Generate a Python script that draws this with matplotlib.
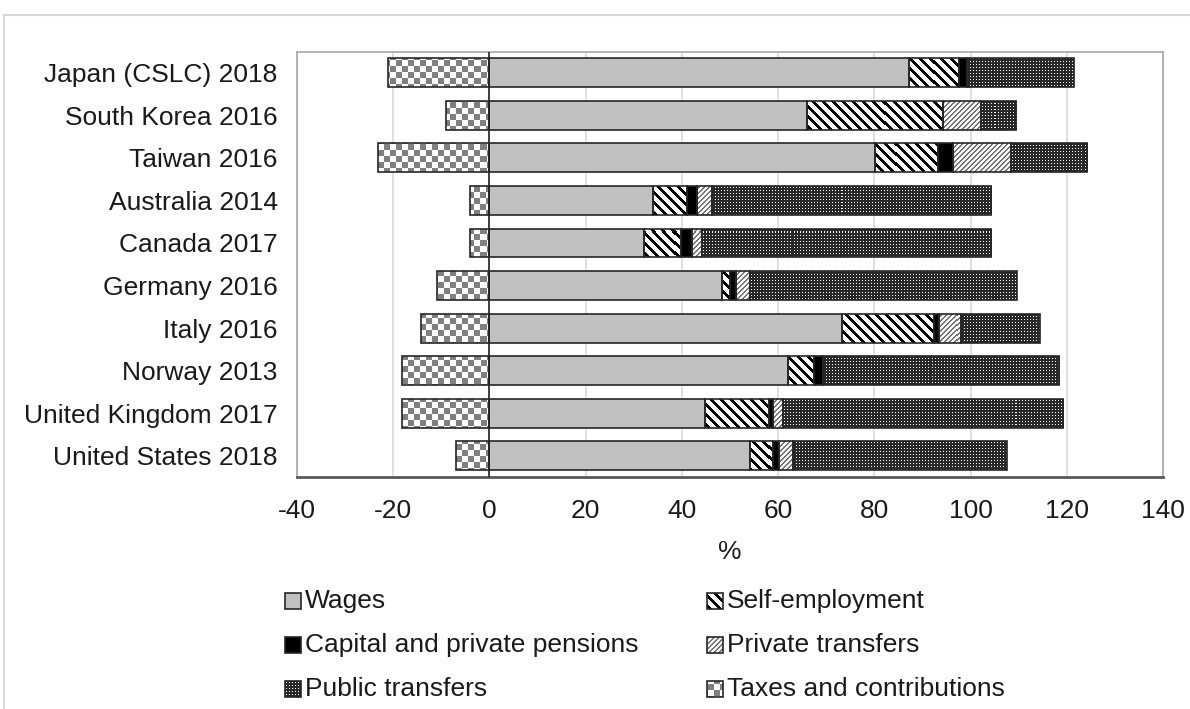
import matplotlib
matplotlib.use('Agg')
import matplotlib.pyplot as plt
from matplotlib.patches import Rectangle
import numpy as np

plt.rcParams['font.family'] = 'Liberation Sans'
plt.rcParams['axes.unicode_minus'] = False

# values (% of income)
countries = ['Japan (CSLC) 2018', 'South Korea 2016', 'Taiwan 2016', 'Australia 2014',
             'Canada 2017', 'Germany 2016', 'Italy 2016', 'Norway 2013',
             'United Kingdom 2017', 'United States 2018']
wages = [87.2, 66.0, 80.1, 34.0, 32.1, 48.3, 73.3, 62.1, 44.9, 54.2]
self_employment = [10.4, 28.3, 13.1, 7.0, 7.8, 1.8, 19.1, 5.3, 13.2, 4.8]
capital = [1.7, 0.0, 3.2, 2.1, 2.1, 1.2, 1.0, 1.9, 0.9, 1.2]
private_transfers = [0.4, 7.8, 12.0, 3.1, 2.1, 2.9, 4.7, 0.0, 2.0, 2.9]
public_transfers = [21.7, 7.4, 15.9, 58.1, 60.2, 55.4, 16.3, 49.1, 58.3, 44.4]
taxes = [-21.1, -9.0, -23.1, -4.0, -4.1, -10.9, -14.2, -18.2, -18.2, -6.9]

xticks = [-40, -20, 0, 20, 40, 60, 80, 100, 120, 140]

W, H = 1190, 709
fig = plt.figure(figsize=(W / 100, H / 100), dpi=100)
ax = fig.add_axes([297 / W, (H - 477) / H, (1163 - 297) / W, (477 - 51.5) / H])
ax.set_xlim(-40, 140)
n = len(countries)
ypos = np.arange(n)[::-1]
ax.set_ylim(-0.5, n - 0.5)
ax.set_autoscale_on(False)

EDGE = '#262626'
FS = 19


def pattern(kind, X, Y):
    # grey level per screen pixel
    if kind == 'checker':
        return np.where(((X // 6) + (Y // 6)) % 2 == 0, 0.5, 1.0)
    if kind == 'dots':
        return np.where((X % 3 == 1) & (Y % 3 == 1), 1.0, 0.16)
    if kind == 'back':
        return np.where((X - Y) % 10 < 4, 0.0, 1.0)
    if kind == 'fwd':
        return np.where((X + Y) % 5 < 2, 0.45, 0.97)
    return np.ones_like(X, dtype=float)


def fill(a, patch, kind):
    x0, y0 = patch.get_x(), patch.get_y()
    x1, y1 = x0 + patch.get_width(), y0 + patch.get_height()
    (dx0, dy0), (dx1, dy1) = a.transData.transform([(min(x0, x1), y0), (max(x0, x1), y1)])
    px0, px1 = int(np.floor(dx0)), int(np.ceil(dx1))
    py0, py1 = int(np.floor(dy0)), int(np.ceil(dy1))
    if px1 - px0 < 1 or py1 - py0 < 1:
        return
    inv = a.transData.inverted()
    (ex0, ey0), (ex1, ey1) = inv.transform([(px0, py0), (px1, py1)])
    X, Y = np.meshgrid(np.arange(px0, px1), H - py1 + np.arange(py1 - py0))
    im = a.imshow(pattern(kind, X, Y), extent=(ex0, ex1, ey0, ey1), origin='upper',
                  cmap='gray', vmin=0, vmax=1, interpolation='nearest', aspect='auto',
                  zorder=patch.get_zorder() - 0.1)
    im.set_clip_path(patch)


series = [
    ('Wages', wages, '#c0c0c0', None),
    ('Self-employment', self_employment, 'none', 'back'),
    ('Capital and private pensions', capital, '#000000', None),
    ('Private transfers', private_transfers, 'none', 'fwd'),
    ('Public transfers', public_transfers, 'none', 'dots'),
]

left = np.zeros(n)
for name, vals, col, kind in series:
    bars = ax.barh(ypos, vals, left=left, height=0.68, color=col, edgecolor=EDGE,
                   linewidth=1.2, zorder=3)
    if kind:
        for b in bars:
            fill(ax, b, kind)
    left = left + np.array(vals)

tbars = ax.barh(ypos, taxes, height=0.68, color='none', edgecolor=EDGE, linewidth=1.2, zorder=3)
for b in tbars:
    fill(ax, b, 'checker')

ax.axvline(0, color='#262626', lw=1.2, zorder=4)

ax.set_xticks(xticks)
ax.set_yticks(ypos)
ax.set_yticklabels(countries)
ax.xaxis.grid(True, color='#d9d9d9', lw=1.2)
ax.set_axisbelow(True)
ax.tick_params(length=0, labelsize=FS, colors='#1a1a1a')
ax.tick_params(axis='x', pad=16)
ax.tick_params(axis='y', pad=14)
ax.set_xlabel('%', fontsize=FS, color='#1a1a1a', labelpad=12)
for s in ['top', 'left', 'right']:
    ax.spines[s].set_color('#a6a6a6')
    ax.spines[s].set_linewidth(1.2)
ax.spines['bottom'].set_color('#595959')
ax.spines['bottom'].set_linewidth(2)

# legend and outer frame drawn in pixel coordinates
lax = fig.add_axes([0, 0, 1, 1])
lax.set_xlim(0, W)
lax.set_ylim(0, H)
lax.axis('off')
lax.set_autoscale_on(False)
lax.plot([4, W], [H - 15, H - 15], color='#d9d9d9', lw=1.5)
lax.plot([4, 4], [H - 15, 0], color='#d9d9d9', lw=1.5)

legend_items = [
    ('Wages', '#c0c0c0', None), ('Self-employment', 'none', 'back'),
    ('Capital and private pensions', '#000000', None), ('Private transfers', 'none', 'fwd'),
    ('Public transfers', 'none', 'dots'), ('Taxes and contributions', 'none', 'checker'),
]
col_x = [285, 707]
row_y = [601, 645, 689]
for i, (label, col, kind) in enumerate(legend_items):
    x = col_x[i % 2]
    yc = H - row_y[i // 2]
    r = Rectangle((x, yc - 8), 16, 16, facecolor=col, edgecolor=EDGE, lw=1.2, zorder=3)
    lax.add_patch(r)
    if kind:
        fill(lax, r, kind)
    lax.text(x + 20, yc, label, fontsize=FS, va='center', ha='left', color='#1a1a1a')

fig.savefig('out.png', dpi=100)
